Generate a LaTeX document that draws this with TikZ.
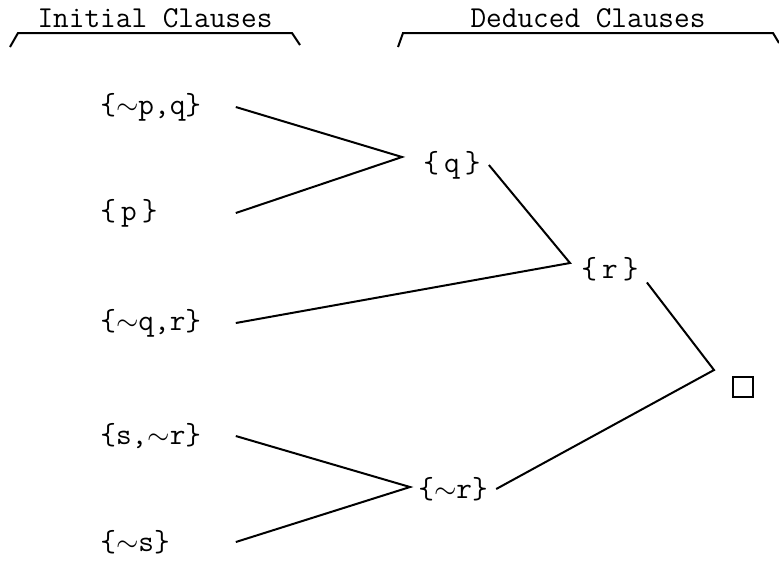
\documentclass[tikz,border=0pt]{standalone}
\usepackage{tikz}
\usetikzlibrary{positioning,calc}

\begin{document}
\begin{tikzpicture}[
  x=0.5pt,y=-0.5pt,
  font=\ttfamily\fontsize{15.2}{18}\selectfont,
  head/.style={anchor=base,inner sep=0pt},
  init/.style={anchor=west,inner sep=0pt,text width=67.5pt,align=left},
  ded/.style={anchor=west,inner sep=4pt},
  nil/.style={draw=black,line width=1.4pt,minimum size=10pt,inner sep=0pt},
  fl/.style={draw=black,line width=1pt},
  brk/.style={draw=black,line width=1pt}
]
\useasboundingbox (0,0) rectangle (779,564);
\node[head] (hi) at (155,27) {Initial Clauses};
\node[head] (hd) at (588,27) {Deduced Clauses};
\draw[brk] (10,47) -- (18,33) -- (292,33) -- (300,45);
\draw[brk] (398,47) -- (403,33) -- (773,33) -- (779,43);
\node[init] (pq) at (100,107) {\{$\sim$p,q\}};
\node[init] (p) at (100,213) {\{\,p\,\}};
\node[init] (qr) at (100,323) {\{$\sim$q,r\}};
\node[init] (sr) at (100,436) {\{s,$\sim$r\}};
\node[init] (s) at (100,542) {\{$\sim$s\}};
\node[ded] (q) at (415,165) {\{\,q\,\}};
\node[ded] (r) at (573,269) {\{\,r\,\}};
\node[ded] (nr) at (410,489) {\{$\sim$r\}};
\node[nil] (box) at (743,387) {};
\coordinate (jq) at (402,157);
\coordinate (jr) at (570,263);
\coordinate (jnr) at (410,487);
\coordinate (jbox) at (714,370);
\draw[fl] (pq.east) -- (jq) -- (p.east);
\draw[fl] (q.east) -- (jr) -- (qr.east);
\draw[fl] (sr.east) -- (jnr) -- (s.east);
\draw[fl] (r.-20) -- (jbox) -- (nr.east);
\end{tikzpicture}
\end{document}
